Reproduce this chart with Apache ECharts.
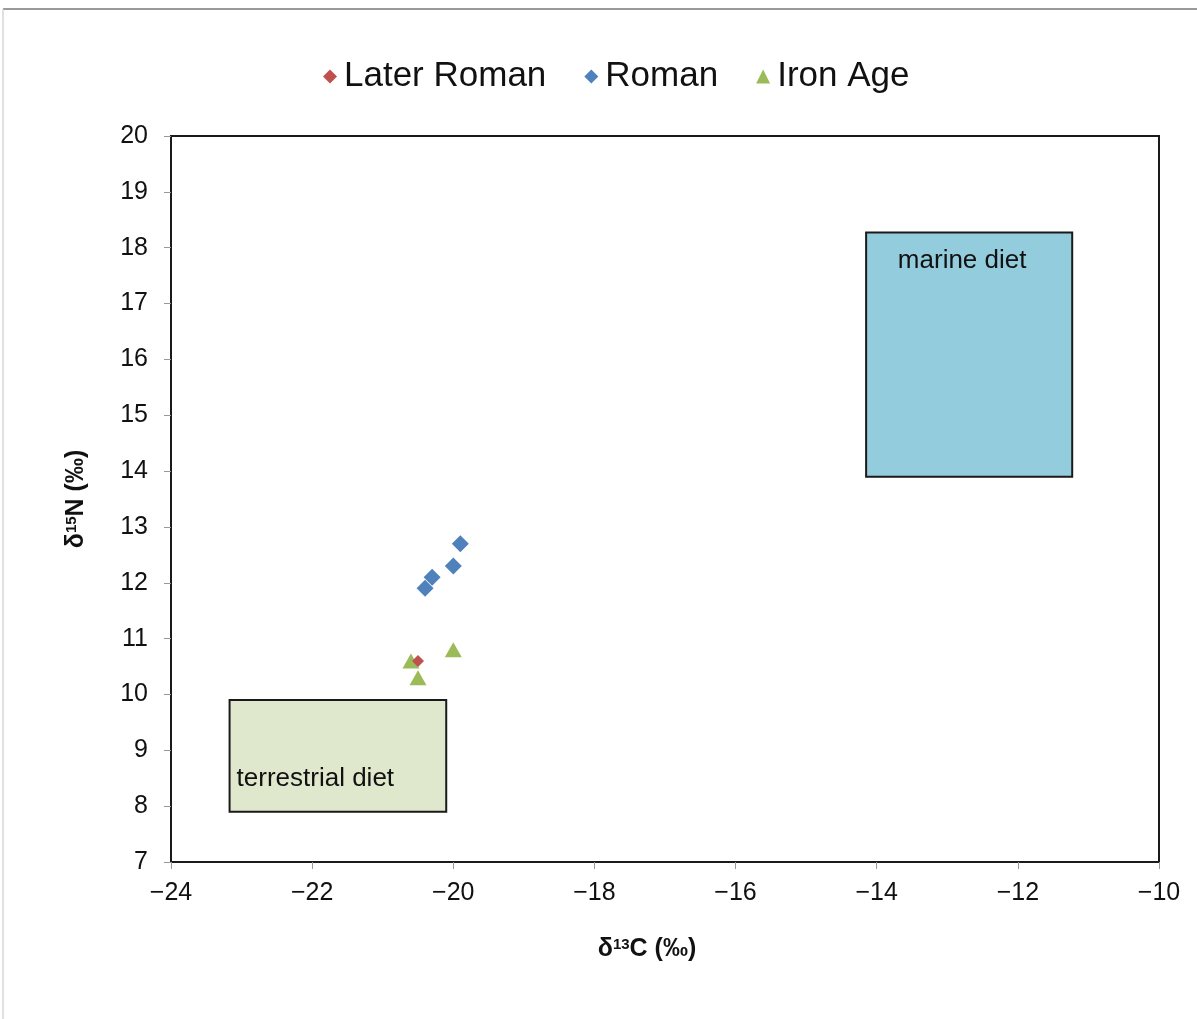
<!DOCTYPE html>
<html>
<head>
<meta charset="utf-8">
<script src="https://cdn.jsdelivr.net/npm/echarts@6/dist/echarts.min.js"></script>
<style>
  html, body { margin: 0; padding: 0; background: #ffffff; }
  #chart { width: 1197px; height: 1019px; }
</style>
</head>
<body>
<div id="chart"></div>
<script>
// δ13C / δ15N values for each period
const laterRoman = [[-20.5, 10.6]];
const roman = [[-19.9, 12.7], [-20.0, 12.3], [-20.3, 12.1], [-20.4, 11.9]];
const ironAge = [[-20.6, 10.6], [-20.5, 10.3], [-20.0, 10.8]];

// Reference diet ranges: [xMin, xMax, yMin, yMax]
const marineBox = [-14.15, -11.23, 13.9, 18.27];
const terrestrialBox = [-23.17, -20.1, 7.9, 9.9];

// Axis ranges
const xRange = [-24, -10, 2];
const yRange = [7, 20, 1];

const FONT = '"Liberation Sans", Arial, sans-serif';
const minus = v => String(v).replace('-', '\u2212');

const chart = echarts.init(document.getElementById('chart'), null, { renderer: 'canvas' });

function dietArea(box, name, color, label) {
  return {
    silent: true,
    itemStyle: { color: color, borderColor: '#1a1a1a', borderWidth: 2 },
    label: label,
    data: [[
      { name: name, coord: [box[0], box[3]] },
      { coord: [box[1], box[2]] }
    ]]
  };
}

const titleRich = {
  d: { fontSize: 25, fontWeight: 'bold', color: '#111', fontFamily: FONT },
  s: { fontSize: 15, fontWeight: 'bold', color: '#111', fontFamily: FONT, verticalAlign: 'top', padding: [0, 0, 9, 0] }
};

chart.setOption({
  animation: false,
  backgroundColor: '#ffffff',
  textStyle: { fontFamily: FONT },
  graphic: [
    { type: 'line', shape: { x1: 3, y1: 9, x2: 1197, y2: 9 }, style: { stroke: '#9a9a9a', lineWidth: 2 }, silent: true },
    { type: 'line', shape: { x1: 3, y1: 9, x2: 3, y2: 1019 }, style: { stroke: '#d6d6d6', lineWidth: 1.5 }, silent: true }
  ],
  legend: {
    left: 318,
    top: 54,
    itemGap: 38,
    itemWidth: 14,
    itemHeight: 14,
    textStyle: { fontSize: 35, color: '#111', fontFamily: FONT, padding: [0, 0, 0, 2] },
    data: [
      { name: 'Later Roman', icon: 'diamond' },
      { name: 'Roman', icon: 'diamond' },
      { name: 'Iron Age', icon: 'triangle' }
    ]
  },
  grid: {
    left: 171, right: 38, top: 136, bottom: 157,
    show: true, borderColor: '#1a1a1a', borderWidth: 2, backgroundColor: 'transparent'
  },
  xAxis: {
    type: 'value',
    min: xRange[0], max: xRange[1], interval: xRange[2],
    name: '{d|δ}{s|13}{d|C (‰)}',
    nameLocation: 'middle',
    nameGap: 75,
    nameTextStyle: { padding: [0, 36, 0, 0], rich: titleRich },
    axisLine: { show: true, onZero: false, lineStyle: { color: '#1a1a1a', width: 2 } },
    axisTick: { show: true, inside: false, length: 7, lineStyle: { color: '#999', width: 1 } },
    axisLabel: { fontSize: 25, color: '#111', margin: 19, formatter: minus },
    splitLine: { show: false }
  },
  yAxis: {
    type: 'value',
    min: yRange[0], max: yRange[1], interval: yRange[2],
    name: '{d|δ}{s|15}{d|N (‰)}',
    nameLocation: 'middle',
    nameGap: 82,
    nameTextStyle: { rich: titleRich },
    axisLine: { show: true, onZero: false, lineStyle: { color: '#1a1a1a', width: 2 } },
    axisTick: { show: true, inside: false, length: 7, lineStyle: { color: '#999', width: 1 } },
    axisLabel: { fontSize: 25, color: '#111', margin: 23, formatter: minus },
    splitLine: { show: false }
  },
  series: [
    {
      name: 'marineArea',
      type: 'scatter',
      data: [],
      z: 1,
      markArea: dietArea(marineBox, 'marine diet', '#93cddd', {
        show: true, position: 'insideTop', distance: 16, offset: [-7, 0],
        fontSize: 26, color: '#111', fontFamily: FONT
      })
    },
    {
      name: 'terrestrialArea',
      type: 'scatter',
      data: [],
      z: 1,
      markArea: dietArea(terrestrialBox, 'terrestrial diet', '#dfe8cd', {
        show: true, position: 'insideBottomLeft', distance: 5, offset: [3, -16],
        fontSize: 26, color: '#111', fontFamily: FONT
      })
    },
    {
      name: 'Iron Age',
      type: 'scatter',
      symbol: 'triangle',
      symbolSize: [17, 15],
      itemStyle: { color: '#9bbb59', opacity: 1 },
      data: ironAge,
      z: 3
    },
    {
      name: 'Later Roman',
      type: 'scatter',
      symbol: 'diamond',
      symbolSize: 12,
      itemStyle: { color: '#c0504d', opacity: 1 },
      data: laterRoman,
      z: 4
    },
    {
      name: 'Roman',
      type: 'scatter',
      symbol: 'diamond',
      symbolSize: 17,
      itemStyle: { color: '#4f81bd', opacity: 1 },
      data: roman,
      z: 4
    }
  ]
});
</script>
</body>
</html>
